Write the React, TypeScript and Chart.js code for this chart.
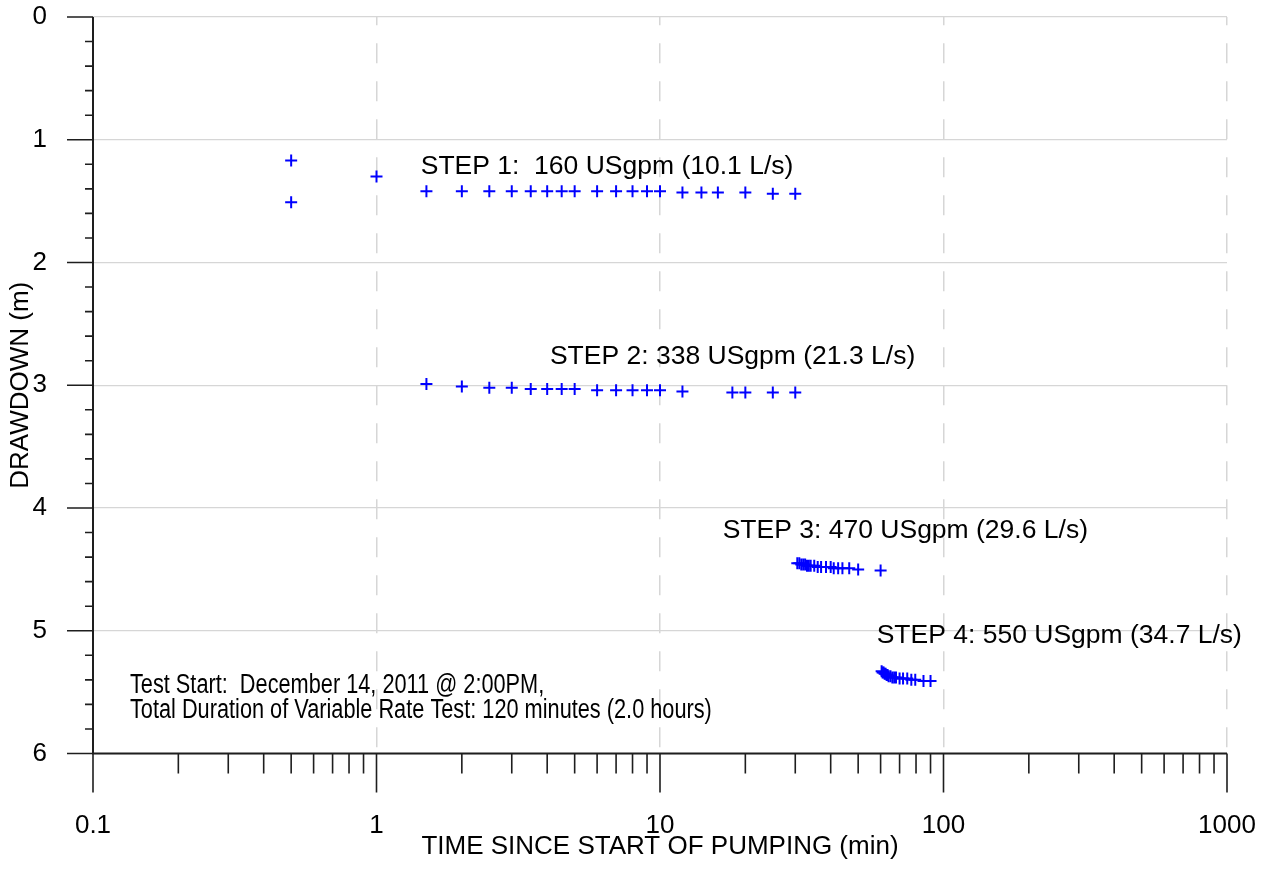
import { useEffect, useRef } from "react";
import { Chart, registerables } from "chart.js";

Chart.register(...registerables);

// Step 1 readings (time in minutes, drawdown in metres)
const step1Time = [0.5, 0.5, 1, 1.5, 2, 2.5, 3, 3.5, 4, 4.5, 5, 6, 7, 8, 9, 10, 12, 14, 16, 20, 25, 30];
const step1Drawdown = [1.17, 1.51, 1.3, 1.42, 1.42, 1.42, 1.42, 1.42, 1.42, 1.42, 1.42, 1.42, 1.42, 1.42, 1.42, 1.42, 1.43, 1.43, 1.43, 1.43, 1.44, 1.44];

// Step 2 readings
const step2Time = [1.5, 2, 2.5, 3, 3.5, 4, 4.5, 5, 6, 7, 8, 9, 10, 12, 18, 20, 25, 30];
const step2Drawdown = [2.99, 3.01, 3.02, 3.02, 3.03, 3.03, 3.03, 3.03, 3.04, 3.04, 3.04, 3.04, 3.04, 3.05, 3.06, 3.06, 3.06, 3.06];

// Step 3 readings
const step3Time = [30.5, 31, 31.5, 32, 32.5, 33, 33.5, 34, 35, 36, 37, 38.5, 40, 41, 42.5, 44, 46.5, 50, 60];
const step3Drawdown = [4.45, 4.45, 4.46, 4.46, 4.46, 4.47, 4.47, 4.47, 4.47, 4.48, 4.48, 4.48, 4.48, 4.49, 4.49, 4.49, 4.49, 4.5, 4.51];

// Step 4 readings
const step4Time = [60.5, 61, 61.5, 62, 62.5, 63, 63.5, 64, 65, 66, 67, 68, 70, 72, 74.5, 77, 79.5, 85, 90];
const step4Drawdown = [5.33, 5.34, 5.34, 5.35, 5.35, 5.36, 5.36, 5.37, 5.37, 5.38, 5.38, 5.38, 5.39, 5.39, 5.39, 5.4, 5.4, 5.41, 5.41];

// Axis ticks
const xDecades = [0.1, 1, 10, 100, 1000];
const xTickLabels = ["0.1", "1", "10", "100", "1000"];
const yTickValues = [0, 1, 2, 3, 4, 5, 6];

// Step annotations, anchored in data units (time, drawdown at baseline)
const stepLabels = [
  "STEP 1:  160 USgpm (10.1 L/s)",
  "STEP 2: 338 USgpm (21.3 L/s)",
  "STEP 3: 470 USgpm (29.6 L/s)",
  "STEP 4: 550 USgpm (34.7 L/s)",
];
const stepLabelTime = [1.432, 4.09, 16.64, 58.1];
const stepLabelDrawdown = [1.277, 2.828, 4.248, 5.097];

// Test notes in the lower-left corner
const noteLines = [
  "Test Start:  December 14, 2011 @ 2:00PM,",
  "Total Duration of Variable Rate Test: 120 minutes (2.0 hours)",
];
const noteTime = 0.135;
const noteDrawdown = [5.511, 5.711];

const FONT = "'Liberation Sans', Arial, Helvetica, sans-serif";
const GRID = "#d6d6d6";
const AXIS = "#1e1e1e";
const MARK = "#0000ff";

const toPoints = (t: number[], d: number[]) => t.map((v, i) => ({ x: v, y: d[i] }));

const framePlugin = {
  id: "frame",
  afterDraw(chart: any) {
    const { ctx, chartArea } = chart;
    const xs = chart.scales.x;
    const ys = chart.scales.y;
    const left = chartArea.left;
    const bottom = chartArea.bottom;
    ctx.save();
    ctx.strokeStyle = AXIS;

    // axis lines
    ctx.lineWidth = 2;
    ctx.beginPath();
    ctx.moveTo(left, chartArea.top);
    ctx.lineTo(left, bottom);
    ctx.lineTo(chartArea.right, bottom);
    ctx.stroke();

    // x ticks: decades long, 2..9 short, below the axis
    ctx.lineWidth = 1.6;
    ctx.beginPath();
    for (let k = 0; k < xDecades.length; k++) {
      const d = xDecades[k];
      const px = xs.getPixelForValue(d);
      ctx.moveTo(px, bottom);
      ctx.lineTo(px, bottom + 39);
      if (k < xDecades.length - 1) {
        for (let m = 2; m <= 9; m++) {
          const p = xs.getPixelForValue(d * m);
          ctx.moveTo(p, bottom);
          ctx.lineTo(p, bottom + 20);
        }
      }
    }
    // y ticks: whole metres long, every 0.2 m short, left of the axis
    for (let i = 0; i <= 30; i++) {
      const v = i / 5;
      const py = ys.getPixelForValue(v);
      const len = i % 5 === 0 ? 26 : 8;
      ctx.moveTo(left - len, py);
      ctx.lineTo(left, py);
    }
    ctx.stroke();

    // step annotations
    ctx.fillStyle = "#000";
    ctx.textAlign = "left";
    ctx.textBaseline = "alphabetic";
    ctx.font = `26.5px ${FONT}`;
    stepLabels.forEach((s, i) => {
      ctx.fillText(s, xs.getPixelForValue(stepLabelTime[i]), ys.getPixelForValue(stepLabelDrawdown[i]));
    });

    // notes, set in a condensed face
    ctx.font = `27px ${FONT}`;
    noteLines.forEach((s, i) => {
      ctx.save();
      ctx.translate(xs.getPixelForValue(noteTime), ys.getPixelForValue(noteDrawdown[i]));
      ctx.scale(0.805, 1);
      ctx.fillText(s, 0, 0);
      ctx.restore();
    });
    ctx.restore();
  },
};

export default function App() {
  const ref = useRef<HTMLCanvasElement | null>(null);

  useEffect(() => {
    if (!ref.current) return;
    const markerStyle = {
      showLine: false,
      pointStyle: "cross" as const,
      pointRadius: 6,
      pointBorderWidth: 2,
      borderColor: MARK,
      backgroundColor: MARK,
      pointBorderColor: MARK,
    };
    const chart = new Chart(ref.current, {
      type: "scatter",
      data: {
        datasets: [
          { label: "Step 1", data: toPoints(step1Time, step1Drawdown), ...markerStyle },
          { label: "Step 2", data: toPoints(step2Time, step2Drawdown), ...markerStyle },
          { label: "Step 3", data: toPoints(step3Time, step3Drawdown), ...markerStyle },
          { label: "Step 4", data: toPoints(step4Time, step4Drawdown), ...markerStyle },
        ],
      },
      options: {
        animation: false,
        responsive: false,
        devicePixelRatio: 1,
        layout: { padding: { top: 17, right: 46, bottom: 0, left: 0 } },
        plugins: { legend: { display: false }, tooltip: { enabled: false } },
        scales: {
          x: {
            type: "logarithmic",
            min: 0.1,
            max: 1000,
            afterBuildTicks: (scale: any) => {
              scale.ticks = xDecades.map((v) => ({ value: v }));
            },
            afterFit: (scale: any) => {
              scale.height = 121.5;
              scale.paddingLeft = 0;
              scale.paddingRight = 0;
            },
            grid: { color: GRID, lineWidth: 1.5, drawTicks: false },
            border: { display: false, dash: [20, 18], dashOffset: 11.7 },
            ticks: {
              autoSkip: false,
              maxRotation: 0,
              padding: 57,
              color: "#000",
              font: { family: FONT, size: 26 },
              callback: (v: any) => {
                const i = xDecades.indexOf(Number(v));
                return i >= 0 ? xTickLabels[i] : "";
              },
            },
            title: {
              display: true,
              text: "TIME SINCE START OF PUMPING (min)",
              color: "#000",
              font: { family: FONT, size: 26 },
              padding: { top: 0, bottom: 12.4 },
            },
          },
          y: {
            type: "linear",
            min: 0,
            max: 6,
            reverse: true,
            afterBuildTicks: (scale: any) => {
              scale.ticks = yTickValues.map((v) => ({ value: v }));
            },
            afterFit: (scale: any) => {
              scale.width = 93;
              scale.paddingTop = 0;
              scale.paddingBottom = 0;
            },
            grid: { color: GRID, lineWidth: 1.3, drawTicks: false },
            border: { display: false },
            ticks: {
              padding: 46,
              color: "#000",
              font: { family: FONT, size: 26 },
              callback: (v: any) => String(v),
            },
            title: {
              display: true,
              text: "DRAWDOWN (m)",
              color: "#000",
              font: { family: FONT, size: 26 },
              padding: { top: 5.4, bottom: 0 },
            },
          },
        },
      },
      plugins: [framePlugin],
    });
    return () => chart.destroy();
  }, []);

  return (
    <div style={{ position: "absolute", left: 0, top: 0, width: 1273, height: 875, background: "#fff" }}>
      <canvas ref={ref} width={1273} height={875} style={{ display: "block" }} />
    </div>
  );
}
